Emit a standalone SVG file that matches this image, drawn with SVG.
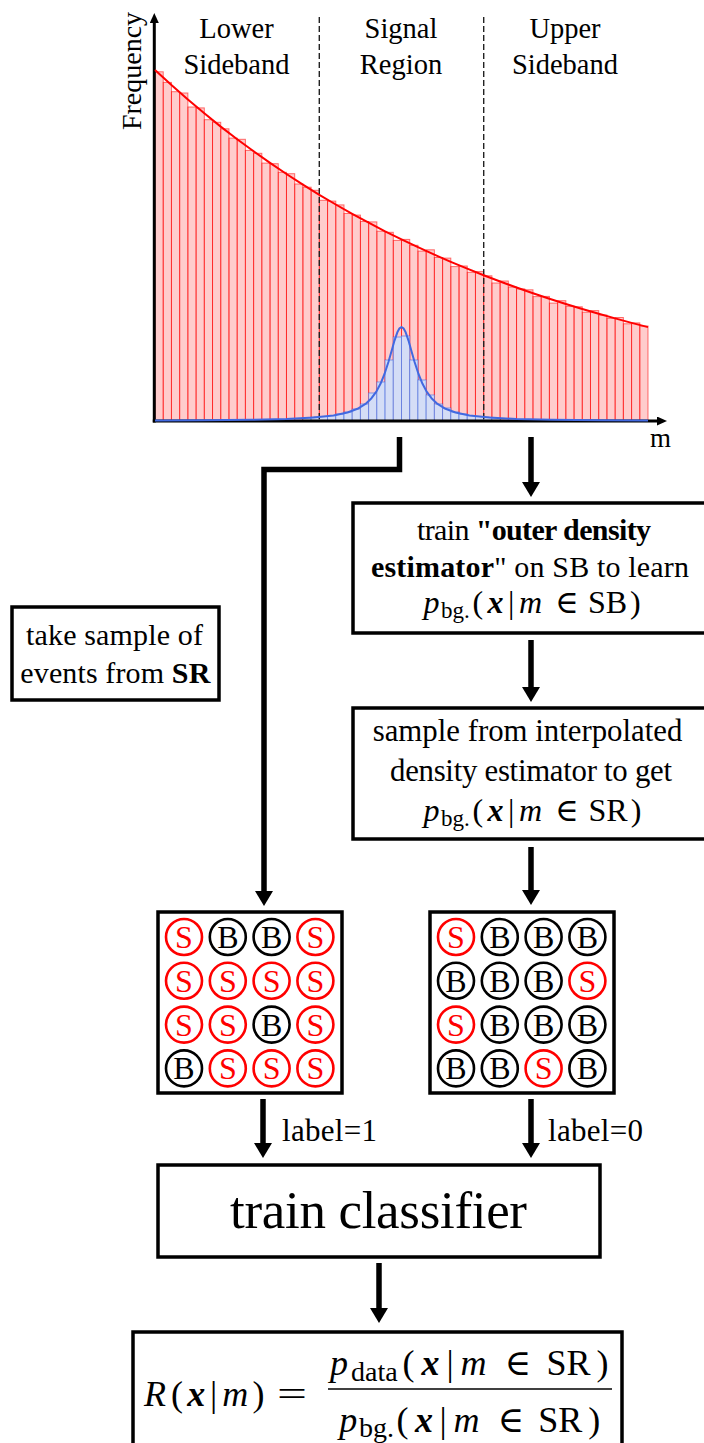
<svg xmlns="http://www.w3.org/2000/svg" width="704" height="1443" viewBox="0 0 704 1443">
  <style>
    text { font-family: "Liberation Serif", "DejaVu Serif", serif; fill: #000; }
    .hdr { font-size: 28.5px; text-anchor: middle; }
    .box { fill: #fff; stroke: #000; stroke-width: 3.5; }
    .t30 { font-size: 30px; }
    .mid { text-anchor: middle; }
    .b { font-weight: bold; }
    .i { font-style: italic; }
    .bi { font-weight: bold; font-style: italic; }
    .m32 { font-size: 32px; }
    .m36 { font-size: 36px; }
    .sub23 { font-size: 23px; }
    .sub28 { font-size: 28px; }
    .rb { fill: #ff0000; fill-opacity: 0.2; stroke: #ff0000; stroke-opacity: 0.55; stroke-width: 1; }
    .bb { fill: #d4ddf6; stroke: #4169e1; stroke-opacity: 0.6; stroke-width: 1; }
    .conn { fill: none; stroke: #000; stroke-width: 5.5; stroke-linejoin: miter; }
    .sc { fill: #fff; stroke: #ff0000; stroke-width: 2.6; }
    .bc { fill: #fff; stroke: #000; stroke-width: 2.6; }
    .sl { font-size: 32px; text-anchor: middle; fill: #ff0000; }
    .bl { font-size: 32px; text-anchor: middle; fill: #000; }
  </style>
  <defs>
    <marker id="head" viewBox="0 -9 15 18" refX="2" refY="0" markerWidth="15" markerHeight="18" markerUnits="userSpaceOnUse" orient="auto">
      <path d="M0,-9 L15,0 L0,9 z" fill="#000"/>
    </marker>
    <marker id="axhead" viewBox="0 -4.5 10 9" refX="1" refY="0" markerWidth="10" markerHeight="9" markerUnits="userSpaceOnUse" orient="auto">
      <path d="M0,-4.5 L10,0 L0,4.5 z" fill="#000"/>
    </marker>
  </defs>

  <rect width="704" height="1443" fill="#fff"/>

  <!-- invariant-mass histogram -->
  <g id="histogram">
    <g id="background-bars">
      <rect class="rb" x="155.00" y="71.8" width="8.22" height="349.2"/>
      <rect class="rb" x="163.22" y="82.4" width="8.22" height="338.6"/>
      <rect class="rb" x="171.43" y="91.7" width="8.22" height="329.3"/>
      <rect class="rb" x="179.65" y="93.0" width="8.22" height="328.0"/>
      <rect class="rb" x="187.87" y="107.0" width="8.22" height="314.0"/>
      <rect class="rb" x="196.08" y="107.9" width="8.22" height="313.1"/>
      <rect class="rb" x="204.30" y="119.7" width="8.22" height="301.3"/>
      <rect class="rb" x="212.52" y="122.3" width="8.22" height="298.7"/>
      <rect class="rb" x="220.73" y="128.8" width="8.22" height="292.2"/>
      <rect class="rb" x="228.95" y="138.1" width="8.22" height="282.9"/>
      <rect class="rb" x="237.17" y="139.3" width="8.22" height="281.7"/>
      <rect class="rb" x="245.38" y="150.4" width="8.22" height="270.6"/>
      <rect class="rb" x="253.60" y="153.3" width="8.22" height="267.7"/>
      <rect class="rb" x="261.82" y="163.1" width="8.22" height="257.9"/>
      <rect class="rb" x="270.03" y="163.7" width="8.22" height="257.3"/>
      <rect class="rb" x="278.25" y="172.3" width="8.22" height="248.7"/>
      <rect class="rb" x="286.47" y="173.7" width="8.22" height="247.3"/>
      <rect class="rb" x="294.68" y="184.0" width="8.22" height="237.0"/>
      <rect class="rb" x="302.90" y="187.2" width="8.22" height="233.8"/>
      <rect class="rb" x="311.12" y="190.3" width="8.22" height="230.7"/>
      <rect class="rb" x="319.33" y="200.3" width="8.22" height="220.7"/>
      <rect class="rb" x="327.55" y="201.1" width="8.22" height="219.9"/>
      <rect class="rb" x="335.77" y="204.9" width="8.22" height="216.1"/>
      <rect class="rb" x="343.98" y="213.5" width="8.22" height="207.5"/>
      <rect class="rb" x="352.20" y="215.1" width="8.22" height="205.9"/>
      <rect class="rb" x="360.42" y="221.5" width="8.22" height="199.5"/>
      <rect class="rb" x="368.63" y="221.9" width="8.22" height="199.1"/>
      <rect class="rb" x="376.85" y="231.2" width="8.22" height="189.8"/>
      <rect class="rb" x="385.07" y="232.3" width="8.22" height="188.7"/>
      <rect class="rb" x="393.28" y="240.4" width="8.22" height="180.6"/>
      <rect class="rb" x="401.50" y="239.4" width="8.22" height="181.6"/>
      <rect class="rb" x="409.72" y="245.3" width="8.22" height="175.7"/>
      <rect class="rb" x="417.93" y="251.1" width="8.22" height="169.9"/>
      <rect class="rb" x="426.15" y="249.8" width="8.22" height="171.2"/>
      <rect class="rb" x="434.37" y="257.5" width="8.22" height="163.5"/>
      <rect class="rb" x="442.58" y="258.1" width="8.22" height="162.9"/>
      <rect class="rb" x="450.80" y="266.6" width="8.22" height="154.4"/>
      <rect class="rb" x="459.02" y="266.0" width="8.22" height="155.0"/>
      <rect class="rb" x="467.23" y="272.3" width="8.22" height="148.7"/>
      <rect class="rb" x="475.45" y="271.6" width="8.22" height="149.4"/>
      <rect class="rb" x="483.67" y="275.8" width="8.22" height="145.2"/>
      <rect class="rb" x="491.88" y="283.0" width="8.22" height="138.0"/>
      <rect class="rb" x="500.10" y="281.0" width="8.22" height="140.0"/>
      <rect class="rb" x="508.32" y="287.0" width="8.22" height="134.0"/>
      <rect class="rb" x="516.53" y="288.9" width="8.22" height="132.1"/>
      <rect class="rb" x="524.75" y="289.8" width="8.22" height="131.2"/>
      <rect class="rb" x="532.97" y="296.6" width="8.22" height="124.4"/>
      <rect class="rb" x="541.18" y="296.4" width="8.22" height="124.6"/>
      <rect class="rb" x="549.40" y="303.1" width="8.22" height="117.9"/>
      <rect class="rb" x="557.62" y="300.7" width="8.22" height="120.3"/>
      <rect class="rb" x="565.83" y="306.3" width="8.22" height="114.7"/>
      <rect class="rb" x="574.05" y="306.8" width="8.22" height="114.2"/>
      <rect class="rb" x="582.27" y="312.2" width="8.22" height="108.8"/>
      <rect class="rb" x="590.48" y="310.6" width="8.22" height="110.4"/>
      <rect class="rb" x="598.70" y="315.0" width="8.22" height="106.0"/>
      <rect class="rb" x="606.92" y="318.3" width="8.22" height="102.7"/>
      <rect class="rb" x="615.13" y="317.5" width="8.22" height="103.5"/>
      <rect class="rb" x="623.35" y="323.8" width="8.22" height="97.2"/>
      <rect class="rb" x="631.57" y="322.9" width="8.22" height="98.1"/>
      <rect class="rb" x="639.78" y="326.0" width="8.22" height="95.0"/>
    </g>
    <g id="signal-bars">
      <rect class="bb" x="302.90" y="417.8" width="8.22" height="3.2"/>
      <rect class="bb" x="311.12" y="417.0" width="8.22" height="4.0"/>
      <rect class="bb" x="319.33" y="416.5" width="8.22" height="4.5"/>
      <rect class="bb" x="327.55" y="415.5" width="8.22" height="5.5"/>
      <rect class="bb" x="335.77" y="414" width="8.22" height="7"/>
      <rect class="bb" x="343.98" y="412" width="8.22" height="9"/>
      <rect class="bb" x="352.20" y="409" width="8.22" height="12"/>
      <rect class="bb" x="360.42" y="404" width="8.22" height="17"/>
      <rect class="bb" x="368.63" y="393" width="8.22" height="28"/>
      <rect class="bb" x="376.85" y="382" width="8.22" height="39"/>
      <rect class="bb" x="385.07" y="360" width="8.22" height="61"/>
      <rect class="bb" x="393.28" y="337" width="8.22" height="84"/>
      <rect class="bb" x="401.50" y="336" width="8.22" height="85"/>
      <rect class="bb" x="409.72" y="360" width="8.22" height="61"/>
      <rect class="bb" x="417.93" y="380" width="8.22" height="41"/>
      <rect class="bb" x="426.15" y="395" width="8.22" height="26"/>
      <rect class="bb" x="434.37" y="404" width="8.22" height="17"/>
      <rect class="bb" x="442.58" y="408" width="8.22" height="13"/>
      <rect class="bb" x="450.80" y="412" width="8.22" height="9"/>
      <rect class="bb" x="459.02" y="414" width="8.22" height="7"/>
      <rect class="bb" x="467.23" y="415.5" width="8.22" height="5.5"/>
      <rect class="bb" x="475.45" y="416.5" width="8.22" height="4.5"/>
      <rect class="bb" x="483.67" y="417.2" width="8.22" height="3.8"/>
      <rect class="bb" x="491.88" y="418" width="8.22" height="3"/>
    </g>

    <!-- axes -->
    <line x1="154.3" y1="422.5" x2="154.3" y2="22" stroke="#000" stroke-width="3" marker-end="url(#axhead)"/>
    <line x1="152.8" y1="421" x2="658" y2="421" stroke="#000" stroke-width="3" marker-end="url(#axhead)"/>

    <!-- region boundaries -->
    <line x1="319.3" y1="17" x2="319.3" y2="421" stroke="#222" stroke-width="1.4" stroke-dasharray="6 3"/>
    <line x1="483.7" y1="17" x2="483.7" y2="421" stroke="#222" stroke-width="1.4" stroke-dasharray="6 3"/>

    <!-- fitted shapes -->
    <polyline fill="none" stroke="#ff0000" stroke-width="2" points="155,70 171.43,85.1 187.87,99.5 204.3,113.3 220.73,126.6 237.17,139.2 253.6,151.3 270.03,162.9 286.47,174 302.9,184.6 319.33,194.8 335.77,204.5 352.2,213.8 368.63,222.7 385.07,231.3 401.5,239.4 417.93,247.2 434.37,254.7 450.8,261.8 467.23,268.7 483.67,275.2 500.1,281.5 516.53,287.5 532.97,293.2 549.4,298.7 565.83,304 582.27,309 598.7,313.8 615.13,318.4 631.57,322.9 648,327.1"/>
    <polyline fill="none" stroke="#4169e1" stroke-width="2" stroke-linejoin="round" points="155,420.6 201.5,420.3 251.5,419.8 286.5,419 313.5,417.6 333.5,415.5 347.5,412.5 357.5,408.8 365.5,403.9 371.5,398.2 376.5,391.3 380.5,383.8 384.5,374 388.5,361.7 391.5,351.2 394.5,340.6 397.5,331.9 399.5,328.3 401.5,327 403.5,328.3 405.5,331.9 408.5,340.6 411.5,351.2 414.5,361.7 418.5,374 422.5,383.8 426.5,391.3 431.5,398.2 437.5,403.9 445.5,408.8 455.5,412.5 469.5,415.5 489.5,417.6 516.5,419 551.5,419.8 601.5,420.3 648,420.6"/>

    <!-- labels -->
    <text transform="translate(141,71) rotate(-90)" font-size="28" text-anchor="middle">Frequency</text>
    <text x="650" y="447" font-size="27">m</text>
    <text class="hdr" x="236.5" y="38">Lower</text>
    <text class="hdr" x="236.5" y="74">Sideband</text>
    <text class="hdr" x="401" y="38">Signal</text>
    <text class="hdr" x="401" y="74">Region</text>
    <text class="hdr" x="565" y="38">Upper</text>
    <text class="hdr" x="565" y="74">Sideband</text>
  </g>

  <!-- flow connectors -->
  <g id="connectors">
    <path class="conn" d="M399.5,437 V469.5 H264 V893" marker-end="url(#head)"/>
    <path class="conn" d="M531,437 V484" marker-end="url(#head)"/>
    <path class="conn" d="M531,640 V689" marker-end="url(#head)"/>
    <path class="conn" d="M531,847 V892" marker-end="url(#head)"/>
    <path class="conn" d="M263,1099 V1145" marker-end="url(#head)"/>
    <path class="conn" d="M531,1099 V1145" marker-end="url(#head)"/>
    <path class="conn" d="M379,1263 V1310" marker-end="url(#head)"/>
    <text x="282" y="1141" font-size="31" textLength="95">label=1</text>
    <text x="548" y="1141" font-size="31" textLength="95">label=0</text>
  </g>

  <g id="sample-sr">
    <rect class="box" x="12" y="607" width="207" height="93"/>
    <text class="t30 mid" x="114.5" y="645" textLength="177">take sample of</text>
    <text class="t30 mid" x="115.3" y="682.7" textLength="190">events from <tspan class="b">SR</tspan></text>
  </g>

  <g id="outer-density">
    <rect class="box" x="353" y="503" width="360" height="130"/>
    <text class="t30 mid" x="534" y="540" textLength="234">train <tspan class="b">"outer density</tspan></text>
    <text class="t30 mid" x="530" y="577" textLength="318"><tspan class="b">estimator</tspan>" on SB to learn</text>
    <text class="m32"><tspan class="i" x="423.5" y="613">p</tspan><tspan class="sub23" x="441" y="618">bg.</tspan><tspan x="472.5" y="613">(</tspan><tspan class="bi" x="487.4" y="613">x</tspan><tspan x="508" y="613">|</tspan><tspan class="i" x="519" y="613">m</tspan><tspan x="555.3" y="613">∈</tspan><tspan x="588" y="613">SB</tspan><tspan x="630" y="613">)</tspan></text>
  </g>

  <g id="interpolate">
    <rect class="box" x="353" y="708" width="360" height="131"/>
    <text class="mid" x="527.5" y="741" font-size="30.8">sample from interpolated</text>
    <text class="mid" x="531" y="781" font-size="30.8" textLength="282">density estimator to get</text>
    <text class="m32"><tspan class="i" x="423.5" y="821">p</tspan><tspan class="sub23" x="441" y="826">bg.</tspan><tspan x="472.5" y="821">(</tspan><tspan class="bi" x="487.4" y="821">x</tspan><tspan x="508" y="821">|</tspan><tspan class="i" x="519" y="821">m</tspan><tspan x="555.3" y="821">∈</tspan><tspan x="588.5" y="821">SR</tspan><tspan x="630.8" y="821">)</tspan></text>
  </g>

  <g id="data-sample">
    <rect class="box" x="158" y="912" width="184" height="181"/>
    <circle class="sc" cx="184" cy="937" r="18"/><text class="sl" x="184" y="948">S</text>
    <circle class="bc" cx="227.8" cy="937" r="18"/><text class="bl" x="227.8" y="948">B</text>
    <circle class="bc" cx="271.6" cy="937" r="18"/><text class="bl" x="271.6" y="948">B</text>
    <circle class="sc" cx="315.4" cy="937" r="18"/><text class="sl" x="315.4" y="948">S</text>
    <circle class="sc" cx="184" cy="980.8" r="18"/><text class="sl" x="184" y="991.8">S</text>
    <circle class="sc" cx="227.8" cy="980.8" r="18"/><text class="sl" x="227.8" y="991.8">S</text>
    <circle class="sc" cx="271.6" cy="980.8" r="18"/><text class="sl" x="271.6" y="991.8">S</text>
    <circle class="sc" cx="315.4" cy="980.8" r="18"/><text class="sl" x="315.4" y="991.8">S</text>
    <circle class="sc" cx="184" cy="1024.6" r="18"/><text class="sl" x="184" y="1035.6">S</text>
    <circle class="sc" cx="227.8" cy="1024.6" r="18"/><text class="sl" x="227.8" y="1035.6">S</text>
    <circle class="bc" cx="271.6" cy="1024.6" r="18"/><text class="bl" x="271.6" y="1035.6">B</text>
    <circle class="sc" cx="315.4" cy="1024.6" r="18"/><text class="sl" x="315.4" y="1035.6">S</text>
    <circle class="bc" cx="184" cy="1068.4" r="18"/><text class="bl" x="184" y="1079.4">B</text>
    <circle class="sc" cx="227.8" cy="1068.4" r="18"/><text class="sl" x="227.8" y="1079.4">S</text>
    <circle class="sc" cx="271.6" cy="1068.4" r="18"/><text class="sl" x="271.6" y="1079.4">S</text>
    <circle class="sc" cx="315.4" cy="1068.4" r="18"/><text class="sl" x="315.4" y="1079.4">S</text>
  </g>

  <g id="background-sample">
    <rect class="box" x="430" y="912" width="184" height="181"/>
    <circle class="sc" cx="456" cy="937" r="18"/><text class="sl" x="456" y="948">S</text>
    <circle class="bc" cx="499.8" cy="937" r="18"/><text class="bl" x="499.8" y="948">B</text>
    <circle class="bc" cx="543.6" cy="937" r="18"/><text class="bl" x="543.6" y="948">B</text>
    <circle class="bc" cx="587.4" cy="937" r="18"/><text class="bl" x="587.4" y="948">B</text>
    <circle class="bc" cx="456" cy="980.8" r="18"/><text class="bl" x="456" y="991.8">B</text>
    <circle class="bc" cx="499.8" cy="980.8" r="18"/><text class="bl" x="499.8" y="991.8">B</text>
    <circle class="bc" cx="543.6" cy="980.8" r="18"/><text class="bl" x="543.6" y="991.8">B</text>
    <circle class="sc" cx="587.4" cy="980.8" r="18"/><text class="sl" x="587.4" y="991.8">S</text>
    <circle class="sc" cx="456" cy="1024.6" r="18"/><text class="sl" x="456" y="1035.6">S</text>
    <circle class="bc" cx="499.8" cy="1024.6" r="18"/><text class="bl" x="499.8" y="1035.6">B</text>
    <circle class="bc" cx="543.6" cy="1024.6" r="18"/><text class="bl" x="543.6" y="1035.6">B</text>
    <circle class="bc" cx="587.4" cy="1024.6" r="18"/><text class="bl" x="587.4" y="1035.6">B</text>
    <circle class="bc" cx="456" cy="1068.4" r="18"/><text class="bl" x="456" y="1079.4">B</text>
    <circle class="bc" cx="499.8" cy="1068.4" r="18"/><text class="bl" x="499.8" y="1079.4">B</text>
    <circle class="sc" cx="543.6" cy="1068.4" r="18"/><text class="sl" x="543.6" y="1079.4">S</text>
    <circle class="bc" cx="587.4" cy="1068.4" r="18"/><text class="bl" x="587.4" y="1079.4">B</text>
  </g>

  <g id="classifier">
    <rect class="box" x="158" y="1165" width="442" height="92"/>
    <text class="mid" x="378.5" y="1228" font-size="53" textLength="297">train classifier</text>
  </g>

  <g id="likelihood-ratio">
    <rect class="box" x="133" y="1332" width="489" height="130"/>
    <text class="m36"><tspan class="i" x="144" y="1406">R</tspan><tspan x="171.1" y="1406">(</tspan><tspan class="bi" x="187.3" y="1406">x</tspan><tspan x="210" y="1406">|</tspan><tspan class="i" x="222.3" y="1406">m</tspan><tspan x="252.6" y="1406">)</tspan></text>
    <text x="277" y="1406" font-size="36" textLength="30" lengthAdjust="spacingAndGlyphs">=</text>
    <text class="m36"><tspan class="i" x="330.1" y="1375">p</tspan><tspan class="sub28" x="351" y="1381">data</tspan><tspan x="402.5" y="1375">(</tspan><tspan class="bi" x="421.5" y="1375">x</tspan><tspan x="446.5" y="1375">|</tspan><tspan class="i" x="460.5" y="1375">m</tspan><tspan x="504.5" y="1375">∈</tspan><tspan x="546.4" y="1375">SR</tspan><tspan x="596.4" y="1375">)</tspan></text>
    <line x1="328" y1="1389" x2="612" y2="1389" stroke="#000" stroke-width="1.6"/>
    <text class="m36"><tspan class="i" x="339.2" y="1432">p</tspan><tspan class="sub28" x="359" y="1437">bg.</tspan><tspan x="396.5" y="1432">(</tspan><tspan class="bi" x="415" y="1432">x</tspan><tspan x="439.5" y="1432">|</tspan><tspan class="i" x="453.5" y="1432">m</tspan><tspan x="497.5" y="1432">∈</tspan><tspan x="538.2" y="1432">SR</tspan><tspan x="588.2" y="1432">)</tspan></text>
  </g>
</svg>
